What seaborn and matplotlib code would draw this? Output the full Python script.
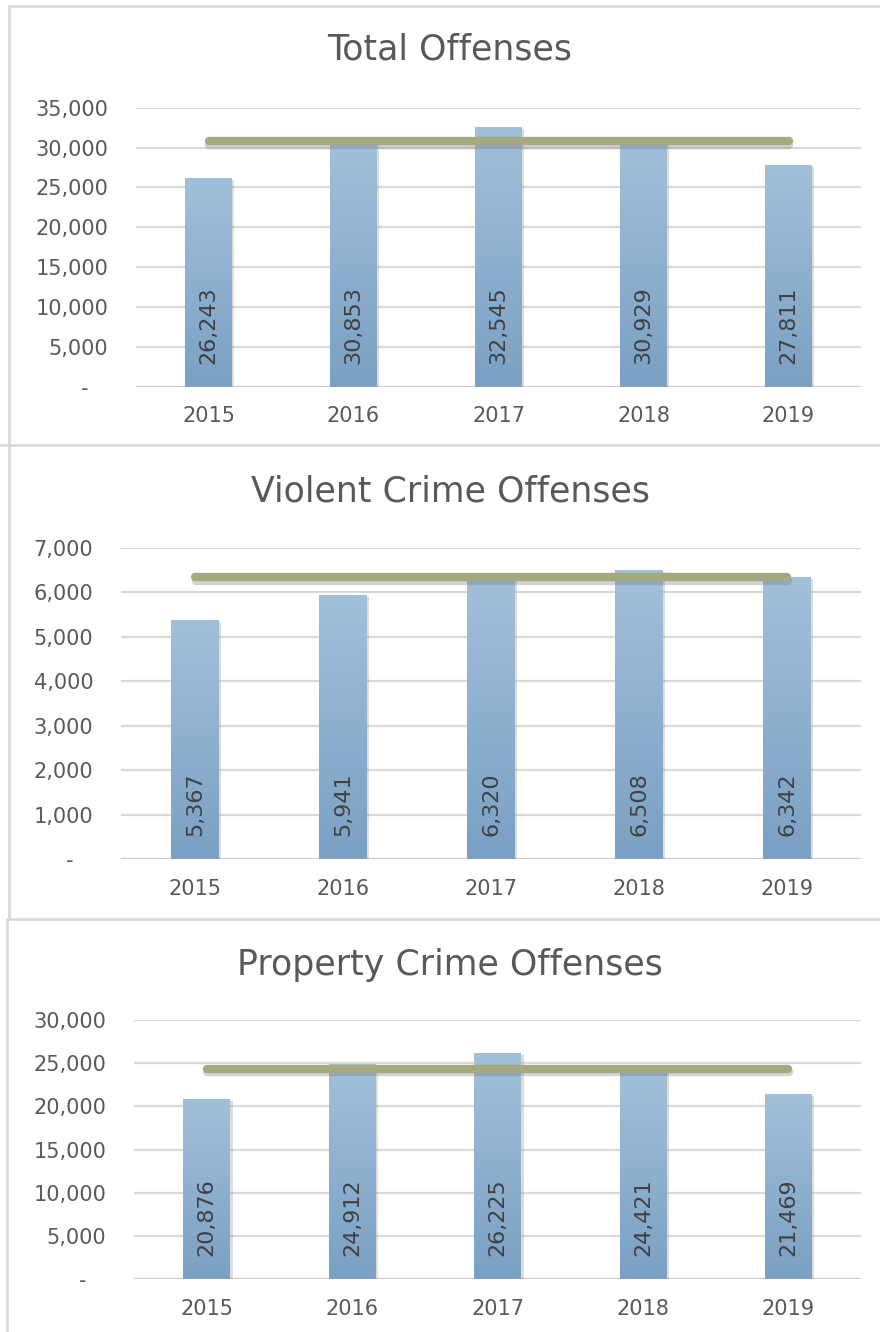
import numpy as np
import seaborn as sns
import matplotlib.pyplot as plt
from matplotlib.lines import Line2D
from matplotlib.ticker import FuncFormatter
import matplotlib.patheffects as pe
from matplotlib.colors import LinearSegmentedColormap

years = ['2015', '2016', '2017', '2018', '2019']
total = [26243, 30853, 32545, 30929, 27811]
violent = [5367, 5941, 6320, 6508, 6342]
prop = [20876, 24912, 26225, 24421, 21469]

# olive reference line
total_ref = 30800
violent_ref = 6335
prop_ref = 24350

titles = ['Total Offenses', 'Violent Crime Offenses', 'Property Crime Offenses']
ymax = [35000, 7000, 30000]
ystep = [5000, 1000, 5000]

sns.set_theme(style='white')
plt.rcParams['font.family'] = ['DejaVu Sans']

W, H = 880, 1332
fig = plt.figure(figsize=(W / 100, H / 100), dpi=100)

# axes boxes in pixels: left, right, top (at ymax), bottom (at 0)
boxes = [(136, 861, 107.7, 386.7), (121, 861, 547.7, 859.3), (134, 861, 1020, 1279.3)]
title_y = [50, 492, 965]

txt_col = '#595959'
grid_col = '#d9d9d9'
bar_cmap = LinearSegmentedColormap.from_list('bar', ['#a3c0db', '#7aa0c3'])
grad = np.linspace(0, 1, 256).reshape(-1, 1)

panels = [(total, total_ref), (violent, violent_ref), (prop, prop_ref)]

for k, (vals, ref) in enumerate(panels):
    l, r, t, b = boxes[k]
    ax = fig.add_axes([l / W, 1 - b / H, (r - l) / W, (b - t) / H])
    sns.barplot(x=years, y=vals, ax=ax, color='#8fb1d2', width=0.32,
                saturation=1, edgecolor='none', linewidth=0, zorder=3)
    ax.set_xlim(-0.5, len(years) - 0.5)
    ax.set_ylim(0, ymax[k])
    ax.set_yticks(np.arange(0, ymax[k] + 1, ystep[k]))
    ax.yaxis.set_major_formatter(FuncFormatter(lambda v, p: '-   ' if v == 0 else f'{v:,.0f}'))
    ax.grid(axis='y', color=grid_col, linewidth=1.6, zorder=0)
    ax.grid(axis='x', visible=False)
    for s in ax.spines.values():
        s.set_visible(False)
    ax.axhline(0, color='#cfcfcf', linewidth=2.2, zorder=1)
    ax.tick_params(axis='y', length=0, pad=20, labelsize=15, labelcolor=txt_col)
    ax.tick_params(axis='x', length=0, pad=14, labelsize=15, labelcolor=txt_col)
    ax.set_xlabel('')
    ax.set_ylabel('')

    # gradient fill + soft shadow on bars
    for patch in list(ax.patches):
        patch.set_path_effects([pe.SimplePatchShadow(offset=(2, -1.5), shadow_rgbFace='#909090', alpha=0.3),
                                pe.Normal()])
        x0, w, h = patch.get_x(), patch.get_width(), patch.get_height()
        im = ax.imshow(grad, extent=[x0, x0 + w, 0, h], origin='upper', aspect='auto',
                       cmap=bar_cmap, zorder=4)
        im.set_clip_path(patch)
    ax.set_xlim(-0.5, len(years) - 0.5)
    ax.set_ylim(0, ymax[k])

    for i, v in enumerate(vals):
        ax.annotate(f'{v:,}', (i, 0), xytext=(0, 16.5), textcoords='offset points',
                    rotation=90, ha='center', va='bottom', fontsize=16,
                    color='#404040', zorder=6)

    ax.plot([0, len(years) - 1], [ref, ref], color='#a3aa80', linewidth=6,
            solid_capstyle='round', zorder=5,
            path_effects=[pe.SimpleLineShadow(offset=(0.5, -2.5), shadow_color='#707070', alpha=0.3),
                          pe.Normal()])

    fig.text(450 / W, 1 - title_y[k] / H, titles[k], ha='center', va='center',
             fontsize=25, color=txt_col)

# panel frames
frame = dict(color=grid_col, linewidth=2, transform=fig.transFigure)
def px_line(x0, y0, x1, y1):
    fig.add_artist(Line2D([x0 / W, x1 / W], [1 - y0 / H, 1 - y1 / H], **frame))

px_line(8.5, 5.5, W, 5.5)
px_line(8.5, 5.5, 8.5, 445)
px_line(0, 445, W, 445)
px_line(8.5, 445, 8.5, 919)
px_line(7, 919, W, 919)
px_line(7, 919, 7, H)

fig.savefig('out.png', dpi=100, facecolor='white')
